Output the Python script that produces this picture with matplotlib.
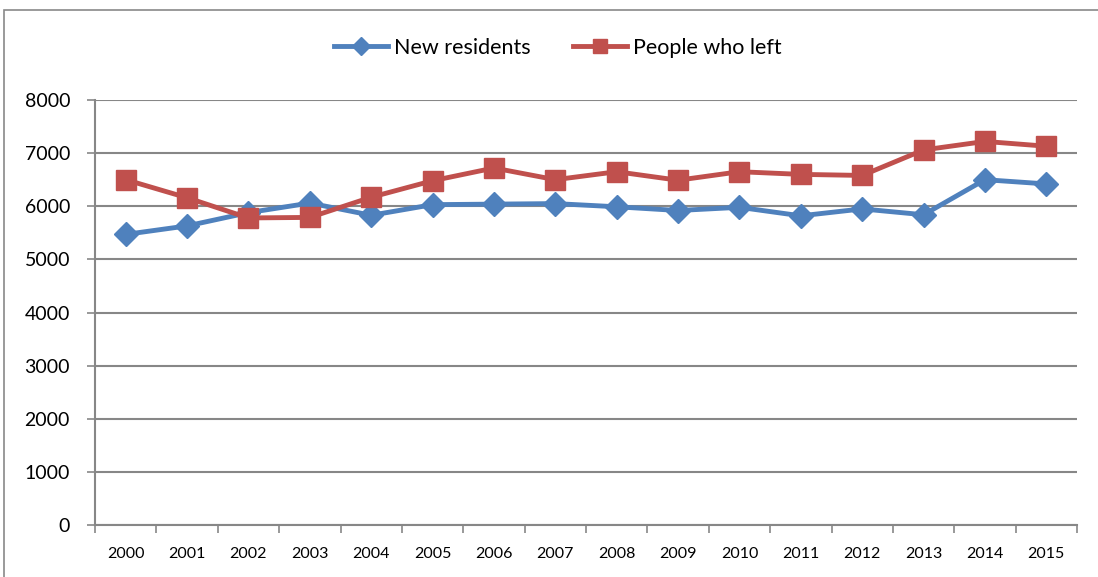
import matplotlib
matplotlib.use("Agg")
import matplotlib.pyplot as plt
from matplotlib.patches import Rectangle

years = ["2000", "2001", "2002", "2003", "2004", "2005", "2006", "2007",
         "2008", "2009", "2010", "2011", "2012", "2013", "2014", "2015"]
new_residents = [5470, 5630, 5880, 6060, 5830, 6030, 6040, 6050,
                 5990, 5920, 5980, 5820, 5950, 5840, 6500, 6420]
people_left = [6500, 6160, 5780, 5790, 6170, 6480, 6720, 6500,
               6650, 6490, 6650, 6600, 6580, 7060, 7220, 7130]
y_ticks = [0, 1000, 2000, 3000, 4000, 5000, 6000, 7000, 8000]

plt.rcParams['font.family'] = ['Lato', 'DejaVu Sans']

fig = plt.figure(figsize=(10.98, 5.77), dpi=100)
ax = fig.add_axes([95/1098, 1-525/577, (1077-95)/1098, (525-100)/577])

grid_c = "#878787"
x = list(range(len(years)))
ax.plot(x, new_residents, color="#4F81BD", lw=3.5, marker="D", ms=12,
        label="New residents", zorder=3)
ax.plot(x, people_left, color="#C0504D", lw=3.5, marker="s", ms=14,
        label="People who left", zorder=3)

ax.set_xlim(-0.5, len(years) - 0.5)
ax.set_ylim(0, 8000)
ax.set_yticks(y_ticks)
ax.set_yticklabels([str(v) for v in y_ticks], fontsize=14)
ax.set_xticks(x)
ax.set_xticklabels(years, fontsize=11.5)
ax.set_xticks([i - 0.5 for i in range(len(years) + 1)], minor=True)
ax.tick_params(axis='x', which='major', length=0, pad=16)
ax.tick_params(axis='x', which='minor', length=6, color=grid_c, width=1.2)
ax.tick_params(axis='y', length=6, color=grid_c, width=1.2, pad=12)

ax.grid(axis='y', color=grid_c, lw=1.5, zorder=0)
ax.set_axisbelow(True)
for s in ["top", "right"]:
    ax.spines[s].set_visible(False)
for s in ["left", "bottom"]:
    ax.spines[s].set_color(grid_c)
    ax.spines[s].set_linewidth(1.5)

leg = fig.legend(loc="center", bbox_to_anchor=(0.508, 1-48/577), ncol=2,
                 frameon=False, fontsize=15.5, handlelength=2.5,
                 columnspacing=2.0, handletextpad=0.25, markerscale=0.75)

fig.patches.append(Rectangle((4/1098, -0.01), 1.1, 1-10/577+0.01,
                             transform=fig.transFigure, fill=False,
                             edgecolor="#898989", lw=1.2))

fig.savefig("out.png", dpi=100)
